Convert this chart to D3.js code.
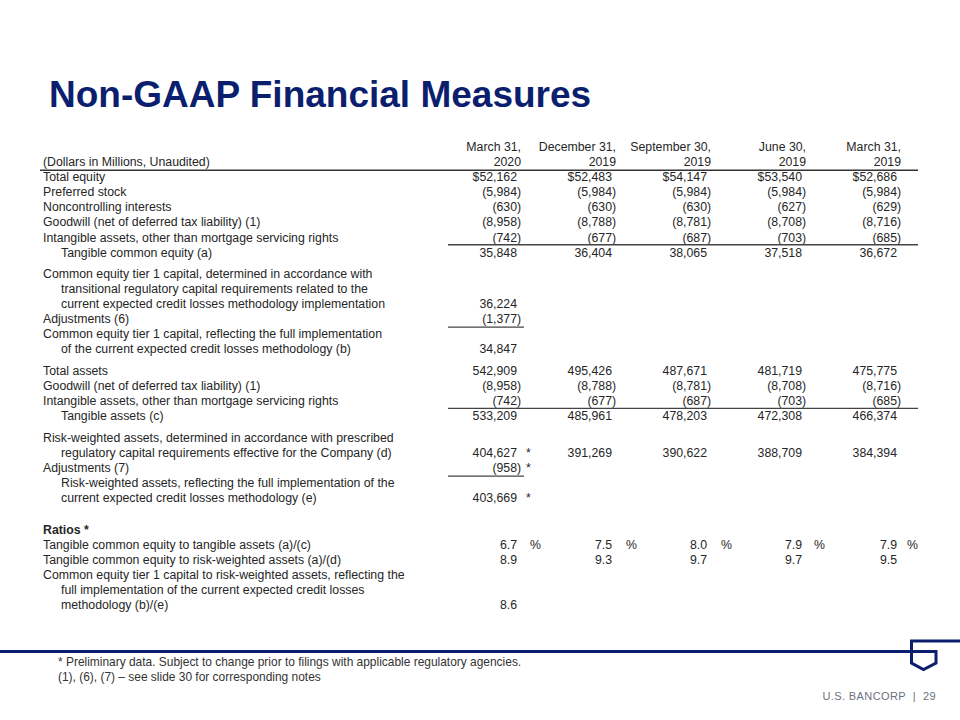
<!DOCTYPE html>
<html>
<head>
<meta charset="utf-8">
<script src="https://cdn.jsdelivr.net/npm/d3@7"></script>
<style>
  html, body { margin: 0; padding: 0; background: #ffffff; }
  svg { display: block; }
</style>
</head>
<body>
<svg id="chart" width="960" height="720"></svg>
<script>
// ---------------- DATA ----------------
const title = "Non-GAAP Financial Measures";
const unitsLabel = "(Dollars in Millions, Unaudited)";
const headerLine1 = ["March 31,", "December 31,", "September 30,", "June 30,", "March 31,"];
const headerLine2 = ["2020", "2019", "2019", "2019", "2019"];

const rowLabels = [
  "Total equity",
  "Preferred stock",
  "Noncontrolling interests",
  "Goodwill (net of deferred tax liability) (1)",
  "Intangible assets, other than mortgage servicing rights",
  "Tangible common equity (a)",
  "Common equity tier 1 capital, determined in accordance with",
  "transitional regulatory capital requirements related to the",
  "current expected credit losses methodology implementation",
  "Adjustments (6)",
  "Common equity tier 1 capital, reflecting the full implementation",
  "of the current expected credit losses methodology (b)",
  "Total assets",
  "Goodwill (net of deferred tax liability) (1)",
  "Intangible assets, other than mortgage servicing rights",
  "Tangible assets (c)",
  "Risk-weighted assets, determined in accordance with prescribed",
  "regulatory capital requirements effective for the Company (d)",
  "Adjustments (7)",
  "Risk-weighted assets, reflecting the full implementation of the",
  "current expected credit losses methodology (e)",
  "Ratios *",
  "Tangible common equity to tangible assets (a)/(c)",
  "Tangible common equity to risk-weighted assets (a)/(d)",
  "Common equity tier 1 capital to risk-weighted assets, reflecting the",
  "full implementation of the current expected credit losses",
  "methodology (b)/(e)"
];
// indentation level of each label line
const rowIndent = [0,0,0,0,0,1, 0,1,1,0,0,1, 0,0,0,1, 0,1,0,1,1, 0,0,0,0,1,1];
// extra space (in line units) before each label line
const rowGapBefore = [0,0,0,0,0,0, 0.42,0,0,0,0,0, 0.45,0,0,0, 0.45,0,0,0,0, 1.1,0,0,0,0,0];
// value kind per row: "money" (first row with $), "num", "pct" (ratio with %), "ratio"
const rowKind = ["money","num","num","num","num","num", null,null,"num","num",null,"num", "num","num","num","num", null,"num","num",null,"num", null,"pct","ratio",null,null,"ratio"];
// rows flagged as preliminary (asterisk after first column value)
const rowStar = [17, 18, 20];

const mar2020 = [52162,-5984,-630,-8958,-742,35848, null,null,36224,-1377,null,34847, 542909,-8958,-742,533209, null,404627,-958,null,403669, null,6.7,8.9,null,null,8.6];
const dec2019 = [52483,-5984,-630,-8788,-677,36404, null,null,null,null,null,null, 495426,-8788,-677,485961, null,391269,null,null,null, null,7.5,9.3,null,null,null];
const sep2019 = [54147,-5984,-630,-8781,-687,38065, null,null,null,null,null,null, 487671,-8781,-687,478203, null,390622,null,null,null, null,8.0,9.7,null,null,null];
const jun2019 = [53540,-5984,-627,-8708,-703,37518, null,null,null,null,null,null, 481719,-8708,-703,472308, null,388709,null,null,null, null,7.9,9.7,null,null,null];
const mar2019 = [52686,-5984,-629,-8716,-685,36672, null,null,null,null,null,null, 475775,-8716,-685,466374, null,384394,null,null,null, null,7.9,9.5,null,null,null];
const columnValues = [mar2020, dec2019, sep2019, jun2019, mar2019];

// rules: [rowIndex, "above"/"below", "all"/"first"]
const rules = [[5,"above","all"],[9,"below","first"],[15,"above","all"],[18,"below","first"]];

const footnotes = [
  "* Preliminary data. Subject to change prior to filings with applicable regulatory agencies.",
  "(1), (6), (7) \u2013 see slide 30 for corresponding notes"
];
const brand = "U.S. BANCORP  |  29";

// ---------------- DRAW ----------------
const NAVY = "#0c1f6f";
const TEXT = "#262626";
const FONT = "'Liberation Sans', Arial, sans-serif";
const FS = 12.3;

const svg = d3.select("#chart");

svg.append("text")
  .attr("x", 49).attr("y", 107)
  .attr("font-family", FONT).attr("font-weight", "bold")
  .attr("font-size", 37).attr("fill", NAVY)
  .text(title);

// column scale (right edge of numbers)
const xCol = d3.scalePoint().domain(d3.range(5)).range([517, 897]);
// row line positions
let acc = 0;
const rowPos = rowLabels.map((d, i) => { acc += (i === 0 ? 0 : 1) + rowGapBefore[i]; return acc; });
const yLine = d3.scaleLinear().domain([0, 1]).range([177, 192.05]);

const labelX = 43, indentX = 61;
const fmtInt = d3.format(",");
const fmt1 = d3.format(".1f");

const g = svg.append("g").attr("font-family", FONT).attr("font-size", FS).attr("fill", TEXT);

// header
g.append("text").attr("x", labelX).attr("y", yLine(-1)).attr("dy", "0.35em").text(unitsLabel);
g.selectAll("text.h1").data(headerLine1).join("text").attr("class", "h1")
  .attr("x", (d, i) => xCol(i) + 4).attr("y", yLine(-2)).attr("dy", "0.35em")
  .attr("text-anchor", "end").text(d => d);
g.selectAll("text.h2").data(headerLine2).join("text").attr("class", "h2")
  .attr("x", (d, i) => xCol(i) + 4).attr("y", yLine(-1)).attr("dy", "0.35em")
  .attr("text-anchor", "end").text(d => d);

// header rule
svg.append("line").attr("x1", 40).attr("x2", 918)
  .attr("y1", yLine(-0.45)).attr("y2", yLine(-0.45))
  .attr("stroke", "#333").attr("stroke-width", 1.6);

// labels
g.selectAll("text.lbl").data(rowLabels).join("text").attr("class", "lbl")
  .attr("x", (d, i) => rowIndent[i] ? indentX : labelX)
  .attr("y", (d, i) => yLine(rowPos[i])).attr("dy", "0.35em")
  .attr("font-weight", (d, i) => d === "Ratios *" ? "bold" : null)
  .text(d => d);

// values
const cells = [];
columnValues.forEach((col, c) => col.forEach((v, r) => { if (v !== null && v !== undefined) cells.push({c, r, v}); }));
function fmtVal(d) {
  const k = rowKind[d.r];
  if (k === "pct" || k === "ratio") return fmt1(d.v);
  const s = fmtInt(Math.abs(d.v));
  if (d.v < 0) return "(" + s + ")";
  return (k === "money" ? "$" : "") + s;
}
g.selectAll("text.val").data(cells).join("text").attr("class", "val")
  .attr("x", d => xCol(d.c) + (d.v < 0 ? 4.1 : 0))
  .attr("y", d => yLine(rowPos[d.r])).attr("dy", "0.35em")
  .attr("text-anchor", "end").text(fmtVal);

// percent signs
g.selectAll("text.pct").data(cells.filter(d => rowKind[d.r] === "pct")).join("text").attr("class", "pct")
  .attr("x", d => xCol(d.c) + 12 + (d.c === 0 ? 1 : 0) + (d.c === 1 || d.c === 2 ? 2 : 0) - (d.c === 4 ? 2 : 0))
  .attr("y", d => yLine(rowPos[d.r])).attr("dy", "0.35em").text("%");

// asterisks
g.selectAll("text.star").data(rowStar).join("text").attr("class", "star")
  .attr("x", xCol(0) + 9)
  .attr("y", r => yLine(rowPos[r])).attr("dy", "0.35em").text("*");

// rules
rules.forEach(([r, where, span]) => {
  const y = yLine(rowPos[r] + (where === "above" ? -0.5 : 0.55));
  svg.append("line")
    .attr("x1", 448).attr("x2", span === "all" ? 918 : 524)
    .attr("y1", y).attr("y2", y)
    .attr("stroke", "#444").attr("stroke-width", 1.3);
});

// bottom navy line with logo shield
svg.append("path")
  .attr("d", "M0,651.5 H936 V663 L923.5,669.5 L911.5,663 V641 H960")
  .attr("fill", "none").attr("stroke", NAVY).attr("stroke-width", 3)
  .attr("stroke-linejoin", "miter");

// footnotes
svg.append("g").attr("font-family", FONT).attr("font-size", 11.95).attr("fill", "#333")
  .selectAll("text").data(footnotes).join("text")
  .attr("x", 58).attr("y", (d, i) => 662 + i * 15).attr("dy", "0.35em")
  .text(d => d);

// brand
svg.append("text")
  .attr("x", 936).attr("y", 696).attr("dy", "0.35em").attr("text-anchor", "end")
  .attr("font-family", FONT).attr("font-size", 11).attr("fill", "#6b7280")
  .attr("letter-spacing", 0.4).attr("xml:space", "preserve")
  .style("white-space", "pre")
  .text(brand);
</script>
</body>
</html>
